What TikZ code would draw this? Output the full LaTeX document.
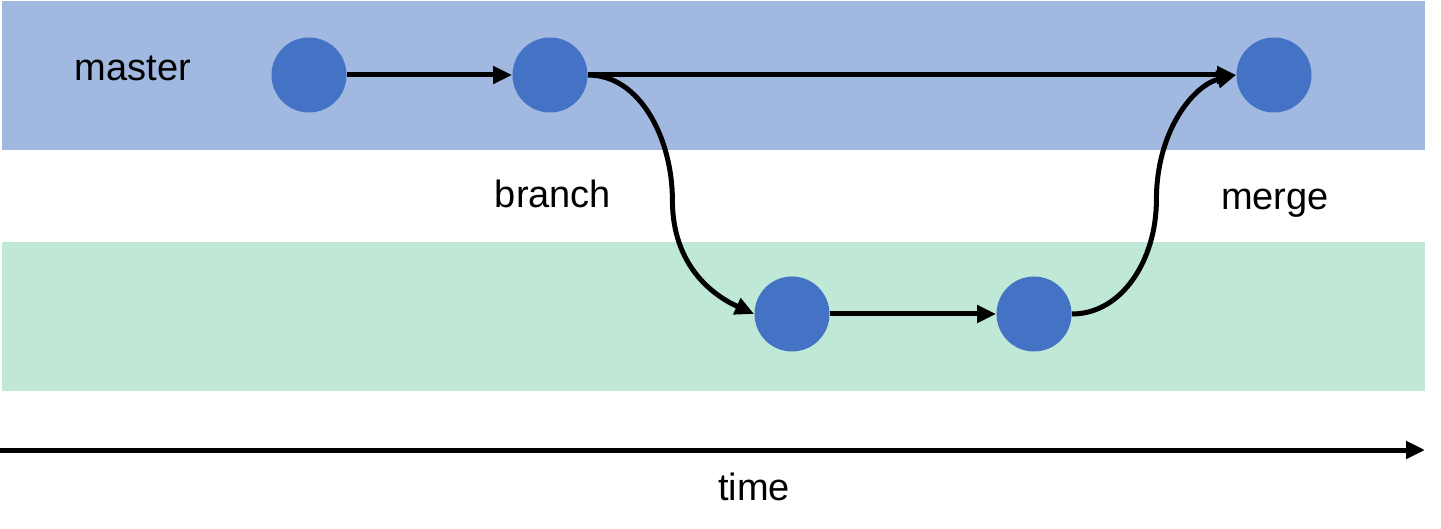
\documentclass[tikz,border=0pt]{standalone}
\usepackage{fontspec}
\setmainfont{Liberation Sans}
\usetikzlibrary{arrows.meta}
\definecolor{bandblue}{RGB}{161,184,225}
\definecolor{bandgreen}{RGB}{191,233,214}
\definecolor{commit}{RGB}{68,114,196}
\tikzset{
  commitnode/.style={circle,fill=commit,draw=none,minimum size=37.5pt,inner sep=0pt},
  flow/.style={line width=2.5pt,-{Triangle[length=9.5pt,width=8.5pt]}},
  lbl/.style={font=\fontsize{19}{22}\selectfont,inner sep=0pt,anchor=base}
}
\begin{document}
\begin{tikzpicture}[x=0.5pt,y=-0.5pt]
\useasboundingbox (0,0) rectangle (1441,529);
\fill[bandblue] (2,1) rectangle (1425,150);
\fill[bandgreen] (2,242) rectangle (1425,391);
\node[commitnode] (c1) at (309,75) {};
\node[commitnode] (c2) at (550,75) {};
\node[commitnode] (c5) at (1274,75) {};
\node[commitnode] (c3) at (792,314) {};
\node[commitnode] (c4) at (1034,314) {};
\node[lbl] (tmaster) at (133,81) {master};
\node[lbl] (tbranch) at (553,208) {branch};
\node[lbl] (tmerge) at (1275,210) {merge};
\node[lbl] (ttime) at (754,500) {time};
\coordinate (t0) at (0,450);
\coordinate (t1) at (1425,450);
\draw[flow] (c1) -- (c2);
\draw[flow] (c2.east) -- (c5.west);
\draw[flow] (c2.east) .. controls +(53,0) and +(0,-60) .. ++(84.5,125)
  .. controls +(0,65) and +(-42,-19) .. (c3.west);
\draw[flow] (c3) -- (c4);
\draw[flow] (c4.east) .. controls +(50,0) and +(0,60) .. ++(84.5,-114)
  .. controls +(0,-70) and +(-42,10) .. (c5.west);
\draw[flow] (t0) -- (t1);
\end{tikzpicture}
\end{document}
